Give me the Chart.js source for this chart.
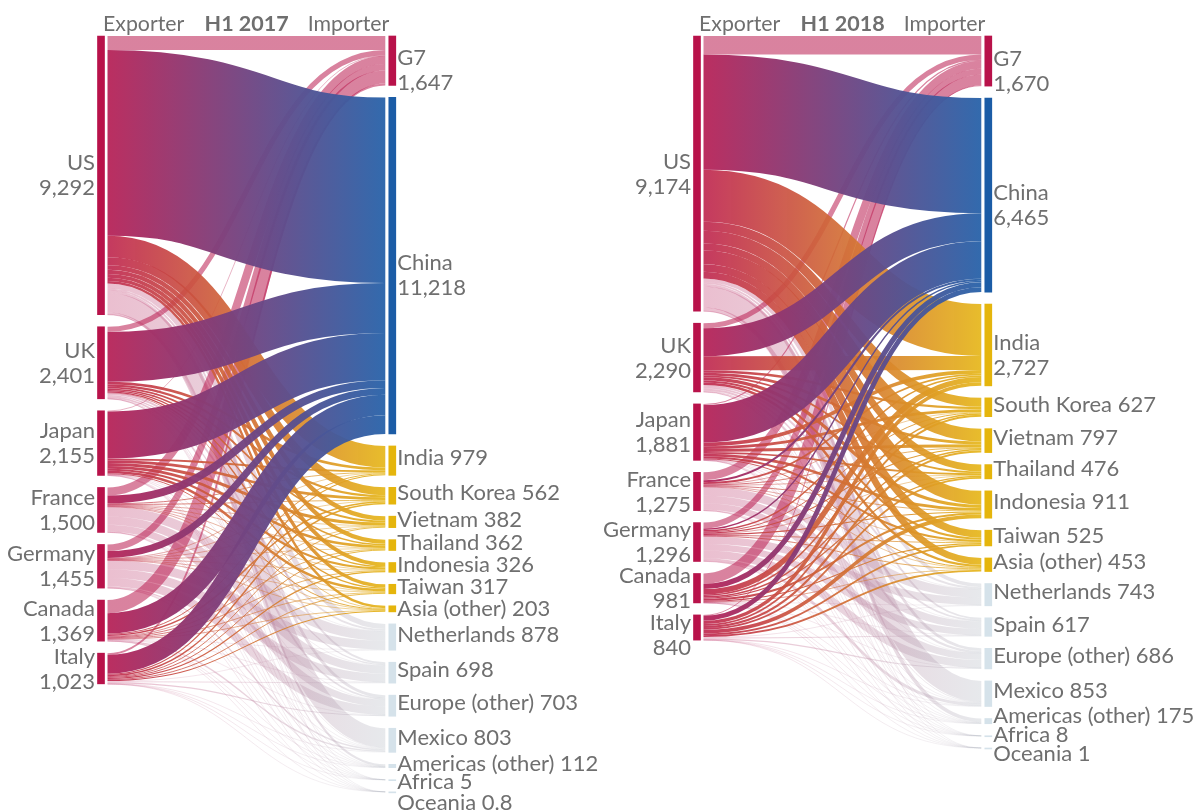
<!DOCTYPE html>
<html>
<head>
<meta charset="utf-8">
<title>H1 2017 / H1 2018 exporters and importers</title>
<script src="https://cdn.jsdelivr.net/npm/chart.js@4/dist/chart.umd.min.js"></script>
<style>
  body { margin: 0; background: #fff; }
  #wrap { position: relative; width: 1200px; height: 811px; overflow: hidden; }
  canvas { position: absolute; top: 0; }
</style>
</head>
<body>
<div id="wrap">
  <canvas id="chart2017" width="620" height="811" style="left:0"></canvas>
  <canvas id="chart2018" width="604" height="811" style="left:596px"></canvas>
</div>
<script>
var exporters = ['US', 'UK', 'Japan', 'France', 'Germany', 'Canada', 'Italy'];
var importers = ['G7', 'China', 'India', 'South Korea', 'Vietnam', 'Thailand', 'Indonesia', 'Taiwan',
                 'Asia (other)', 'Netherlands', 'Spain', 'Europe (other)', 'Mexico', 'Americas (other)', 'Africa', 'Oceania'];

var exporterTotals2017 = [9292, 2401, 2155, 1500, 1455, 1369, 1023];
var importerTotals2017 = [1647, 11218, 979, 562, 382, 362, 326, 317, 203, 878, 698, 703, 803, 112, 5, 0.8];
var exporterTotals2018 = [9174, 2290, 1881, 1275, 1296, 981, 840];
var importerTotals2018 = [1670, 6465, 2727, 627, 797, 476, 911, 525, 453, 743, 617, 686, 853, 175, 8, 1];

var flows2017 = [
  [470, 6187, 720, 265, 150, 140, 125, 110, 80, 172, 60, 90, 649, 70, 1.5, 0.3],
  [170, 1667, 90, 70, 60, 50, 40, 44, 20, 60, 45, 55, 20, 9, 0.5, 0.1],
  [20, 1570, 60, 90, 100, 90, 70, 85, 30, 10, 5, 5, 12, 7, 0.5, 0.1],
  [270, 260, 25, 25, 15, 15, 15, 15, 10, 321, 275, 225, 15, 8, 1, 0.1],
  [220, 230, 15, 17, 10, 12, 11, 13, 7, 295, 285, 285, 45, 8, 1, 0.1],
  [437, 680, 30, 50, 20, 25, 25, 22, 20, 5, 3, 3, 47, 2, 0.3, 0.05],
  [60, 624, 39, 45, 27, 30, 40, 28, 35, 15, 25, 40, 15, 8, 0.2, 0.05]
];
var flows2018 = [
  [620, 3840, 1730, 300, 430, 230, 460, 250, 221, 120, 60, 90, 700, 120, 2.5, 0.5],
  [170, 930, 470, 80, 90, 60, 110, 70, 80, 60, 55, 70, 25, 18, 1.5, 0.1],
  [40, 1250, 120, 90, 100, 60, 90, 70, 31, 8, 4, 4, 10, 4, 0.5, 0.1],
  [260, 70, 60, 15, 25, 10, 25, 15, 15, 285, 250, 220, 12, 11, 1.5, 0.1],
  [200, 45, 50, 30, 35, 15, 40, 25, 26, 247, 215, 260, 90, 12, 1.5, 0.1],
  [350, 170, 180, 52, 47, 41, 66, 35, 20, 5, 3, 2, 8, 2, 0.2, 0.05],
  [30, 160, 117, 60, 70, 60, 120, 60, 60, 18, 30, 40, 8, 8, 0.3, 0.05]
];

var NODE_GAP = 400;  // same units as the flows
var Y_MAX = 25500;
var FONT = 'Lato, sans-serif';
var TEXT_COLOR = '#6f6f6f';

// importer index -> colour group
function groupOf(i) {
  if (i == 0) return 'g7';
  if (i == 1) return 'china';
  if (i <= 8) return 'asia';
  return 'other';
}

var nodeColors = { g7: '#b8124a', china: '#1b5ca6', asia: '#e5b50c', other: '#d5e2ea' };
var bandColors = {
  g7:    ['rgba(186,28,80,0.55)', 'rgba(186,28,80,0.55)'],
  china: ['rgba(184,38,90,0.96)', 'rgba(42,100,170,0.96)'],
  asia:  ['rgba(190,36,78,0.9)', 'rgba(230,183,26,0.92)'],
  other: ['rgba(188,42,98,0.3)', 'rgba(175,182,192,0.3)']
};

function stackNodes(totals) {
  var tops = [];
  var y = 0;
  for (var i = 0; i < totals.length; i++) {
    tops.push(y);
    y += totals[i] + NODE_GAP;
  }
  return tops;
}

function formatValue(v) {
  return v.toLocaleString('en-US');
}

var sankeyPlugin = {
  id: 'sankey',

  // bands go under the node bars
  beforeDatasetsDraw: function(chart, args, opts) {
    var ctx = chart.ctx;
    var xs = chart.scales.x;
    var ys = chart.scales.y;
    var x0 = xs.getPixelForTick(0) + 6.5;
    var x1 = xs.getPixelForTick(1) - 7;
    var xm = (x0 + x1) / 2;
    var unit = ys.getPixelForValue(1) - ys.getPixelForValue(0);
    var sourceTops = stackNodes(opts.exporterTotals);
    var targetTops = stackNodes(opts.importerTotals);
    var links = [];

    for (var s = 0; s < opts.flows.length; s++) {
      var y = sourceTops[s];
      for (var t = 0; t < importers.length; t++) {
        var v = opts.flows[s][t];
        links.push({ t: t, value: v, y0: y + v / 2, y1: targetTops[t] + v / 2 });
        y += v;
        targetTops[t] += v;
      }
    }

    // pale ones at the back, then G7, Asia and China on top
    var rank = { other: 0, g7: 1, asia: 2, china: 3 };
    links.sort(function(a, b) {
      return rank[groupOf(a.t)] - rank[groupOf(b.t)];
    });

    ctx.save();
    ctx.lineCap = 'butt';
    links.forEach(function(link) {
      var c = bandColors[groupOf(link.t)];
      var gradient = ctx.createLinearGradient(x0, 0, x1, 0);
      gradient.addColorStop(0, c[0]);
      gradient.addColorStop(1, c[1]);
      var py0 = ys.getPixelForValue(link.y0);
      var py1 = ys.getPixelForValue(link.y1);
      ctx.strokeStyle = gradient;
      ctx.lineWidth = Math.max(link.value * unit, 0.5);
      ctx.beginPath();
      ctx.moveTo(x0, py0);
      ctx.bezierCurveTo(xm, py0, xm, py1, x1, py1);
      ctx.stroke();
    });
    ctx.restore();
  },

  afterDatasetsDraw: function(chart, args, opts) {
    var ctx = chart.ctx;
    var xs = chart.scales.x;
    var ys = chart.scales.y;
    var left = xs.getPixelForTick(0);
    var right = xs.getPixelForTick(1);
    var sourceTops = stackNodes(opts.exporterTotals);
    var targetTops = stackNodes(opts.importerTotals);
    var font = '22px ' + FONT;

    ctx.save();
    ctx.textBaseline = 'middle';
    ctx.fillStyle = TEXT_COLOR;

    // header
    ctx.font = '21.3px ' + FONT;
    ctx.textAlign = 'left';
    ctx.fillText('Exporter', left + 2, 24);
    ctx.textAlign = 'right';
    ctx.fillText('Importer', right - 3, 24);
    ctx.textAlign = 'center';
    ctx.font = 'bold 21.5px ' + FONT;
    ctx.fillText(opts.title, (left + right) / 2, 24);
    ctx.font = font;

    // exporters: name over value, right aligned
    ctx.textAlign = 'right';
    for (var i = 0; i < exporters.length; i++) {
      var mid = ys.getPixelForValue(sourceTops[i] + opts.exporterTotals[i] / 2);
      mid += opts.exporterNudge[exporters[i]] || 0;
      ctx.fillText(exporters[i], left - 6, mid - 12);
      ctx.fillText(formatValue(opts.exporterTotals[i]), left - 6, mid + 13);
    }

    // importers: one line, apart from the ones wide enough for two
    ctx.textAlign = 'left';
    for (var j = 0; j < importers.length; j++) {
      var y = ys.getPixelForValue(targetTops[j] + opts.importerTotals[j] / 2) - 2.5;
      y += opts.importerNudge[importers[j]] || 0;
      var text = formatValue(opts.importerTotals[j]);
      if (opts.twoLines.indexOf(importers[j]) >= 0) {
        ctx.fillText(importers[j], right + 5, y);
        ctx.fillText(text, right + 5, y + 25);
      } else {
        ctx.fillText(importers[j] + ' ' + text, right + 5, y);
      }
    }
    ctx.restore();
  }
};

function buildDatasets(exporterTotals, importerTotals) {
  var datasets = [];
  var tops = stackNodes(exporterTotals);
  exporterTotals.forEach(function(total, i) {
    datasets.push({
      label: exporters[i],
      data: [[tops[i], tops[i] + total], null],
      backgroundColor: nodeColors.g7
    });
  });
  tops = stackNodes(importerTotals);
  importerTotals.forEach(function(total, i) {
    datasets.push({
      label: importers[i],
      data: [null, [tops[i], tops[i] + total]],
      backgroundColor: nodeColors[groupOf(i)]
    });
  });
  return datasets;
}

function drawPanel(canvasId, title, exporterTotals, importerTotals, flows, exporterNudge, importerNudge, twoLines) {
  var canvas = document.getElementById(canvasId);
  return new Chart(canvas, {
    type: 'bar',
    data: {
      labels: ['Exporter', 'Importer'],
      datasets: buildDatasets(exporterTotals, importerTotals)
    },
    options: {
      responsive: false,
      animation: false,
      events: [],
      layout: { padding: { left: 101, right: canvas.width - 392.3, top: 36, bottom: 10 } },
      datasets: {
        bar: { grouped: false, barThickness: 7, clip: false, minBarLength: 1, borderWidth: 0 }
      },
      scales: {
        x: { type: 'category', offset: false, display: false },
        y: { type: 'linear', reverse: true, min: 0, max: Y_MAX, display: false }
      },
      plugins: {
        legend: { display: false },
        tooltip: { enabled: false },
        sankey: {
          title: title,
          exporterTotals: exporterTotals,
          importerTotals: importerTotals,
          flows: flows,
          exporterNudge: exporterNudge,
          importerNudge: importerNudge,
          twoLines: twoLines
        }
      }
    },
    plugins: [sankeyPlugin]
  });
}

drawPanel('chart2017', 'H1 2017', exporterTotals2017, importerTotals2017, flows2017,
  {}, { 'Asia (other)': 3, 'Africa': 5, 'Oceania': 14 }, ['G7', 'China']);
drawPanel('chart2018', 'H1 2018', exporterTotals2018, importerTotals2018, flows2018,
  { 'Italy': 7 }, { 'Americas (other)': -3, 'Africa': 2, 'Oceania': 8 }, ['G7', 'China', 'India']);
</script>
</body>
</html>
